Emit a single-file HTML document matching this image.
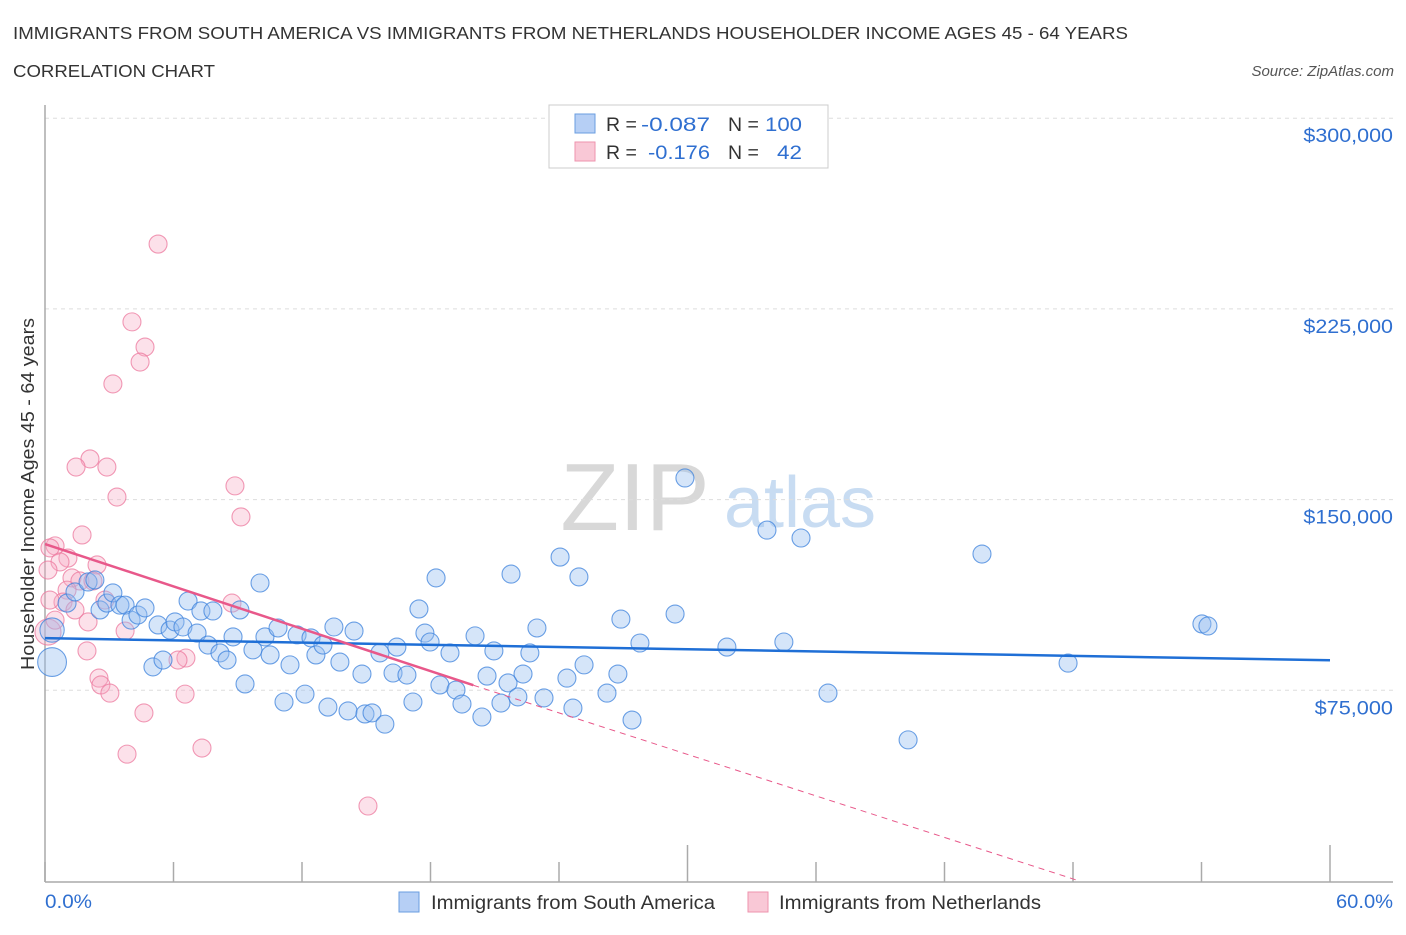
<!DOCTYPE html>
<html><head><meta charset="utf-8">
<style>
body{margin:0;background:#fff;font-family:"Liberation Sans",sans-serif;}
svg text{font-family:"Liberation Sans",sans-serif;}
</style></head>
<body>
<svg id="chart" width="1406" height="930" viewBox="0 0 1406 930" xmlns="http://www.w3.org/2000/svg">
<text x="13" y="39" font-size="17.5" fill="#333" textLength="1115" lengthAdjust="spacingAndGlyphs">IMMIGRANTS FROM SOUTH AMERICA VS IMMIGRANTS FROM NETHERLANDS HOUSEHOLDER INCOME AGES 45 - 64 YEARS</text>
<text x="13" y="77" font-size="17.5" fill="#333" textLength="202" lengthAdjust="spacingAndGlyphs">CORRELATION CHART</text>
<text x="1394" y="76" font-size="15" fill="#555" font-style="italic" text-anchor="end">Source: ZipAtlas.com</text>
<g>
<text x="635" y="530" font-size="96" fill="#d8d8d8" text-anchor="middle" font-family="Liberation Serif, serif">ZIP</text>
<text x="800" y="527" font-size="72" fill="#c8dcf2" text-anchor="middle">atlas</text>
</g>
<g id="grid"></g>
<g id="axes"></g>
<g id="trends"></g>
<g id="points"></g>
<text transform="translate(34,494) rotate(-90)" font-size="18.5" fill="#333" text-anchor="middle" textLength="352" lengthAdjust="spacingAndGlyphs">Householder Income Ages 45 - 64 years</text>
<g>
<rect x="549" y="105" width="279" height="63" fill="#fff" stroke="#ccc"/>
<rect x="575" y="114" width="20" height="19" fill="#b6cff5" stroke="#6a9ee0"/>
<text x="606" y="131" font-size="19.5" fill="#333">R = </text><text x="641" y="131" font-size="19.5" fill="#2f6fd0" textLength="69" lengthAdjust="spacingAndGlyphs">-0.087</text>
<text x="728" y="131" font-size="19.5" fill="#333">N = </text><text x="765" y="131" font-size="19.5" fill="#2f6fd0" textLength="37" lengthAdjust="spacingAndGlyphs">100</text>
<rect x="575" y="142" width="20" height="19" fill="#f9c8d6" stroke="#ee93ae"/>
<text x="606" y="159" font-size="19.5" fill="#333">R = </text><text x="648" y="159" font-size="19.5" fill="#2f6fd0" textLength="62" lengthAdjust="spacingAndGlyphs">-0.176</text>
<text x="728" y="159" font-size="19.5" fill="#333">N = </text><text x="777" y="159" font-size="19.5" fill="#2f6fd0" textLength="25" lengthAdjust="spacingAndGlyphs">42</text>
</g>
<g>
<rect x="399" y="892" width="20" height="20" fill="#b6cff5" stroke="#6a9ee0"/>
<text x="431" y="909" font-size="19" fill="#333" textLength="284" lengthAdjust="spacingAndGlyphs">Immigrants from South America</text>
</g>
<g>
<rect x="748" y="892" width="20" height="20" fill="#f9c8d6" stroke="#ee93ae"/>
<text x="779" y="909" font-size="19" fill="#333" textLength="262" lengthAdjust="spacingAndGlyphs">Immigrants from Netherlands</text>
</g>
</svg>
<script>
const blueX=[0.33,0.33,1.03,1.40,2.01,2.33,2.57,2.89,3.17,3.50,3.74,4.02,4.34,4.67,5.04,5.28,5.51,5.84,6.07,6.44,6.68,7.10,7.28,7.61,7.84,8.17,8.50,8.78,9.10,9.34,9.71,10.04,10.27,10.51,10.88,11.16,11.44,11.77,12.14,12.42,12.65,12.98,13.21,13.49,13.77,14.15,14.43,14.80,14.94,15.27,15.64,15.87,16.25,16.43,16.90,17.18,17.46,17.74,17.98,18.26,18.44,18.91,19.19,19.47,20.08,20.40,20.64,20.96,21.29,21.62,21.76,22.08,22.32,22.64,22.97,23.30,24.05,24.37,24.65,24.93,25.17,26.24,26.75,26.89,27.41,27.78,29.42,29.88,31.84,33.71,34.50,35.30,36.56,40.30,43.75,47.77,54.02,54.30];
const blueY=[86.1,98.7,109.3,113.7,117.6,118.4,106.6,109.3,113.3,108.5,108.5,102.6,104.6,107.4,84.2,100.7,86.9,98.7,101.9,99.9,110.1,97.5,106.2,92.8,106.2,89.7,86.9,96.0,106.6,77.5,90.9,117.2,96.0,88.9,99.5,70.4,85.0,96.8,73.5,95.6,88.9,92.8,68.4,99.9,86.1,66.9,98.3,81.4,65.7,66.1,89.7,61.7,81.8,92.0,81.0,70.4,107.0,97.5,94.0,119.2,77.1,89.7,75.1,69.6,96.4,64.5,80.6,90.5,70.0,77.9,120.7,72.4,81.4,89.7,99.5,72.0,127.4,79.8,68.0,119.6,85.0,73.9,81.4,103.0,63.3,93.6,105.0,158.5,92.0,138.0,94.0,134.9,73.9,55.5,128.6,85.7,101.1,100.3];
const blueSize=[1.6,1.35];
const pinkX=[5.28,4.06,4.67,4.44,3.17,2.10,2.89,1.45,3.36,8.87,9.15,1.73,0.47,0.23,1.07,2.43,0.70,1.26,1.63,2.24,0.14,1.03,0.84,2.80,8.73,2.01,3.74,6.58,6.21,1.96,2.52,2.61,3.03,6.54,4.62,7.33,3.83,15.08,0.14,0.47,1.40,0.23];
const pinkY=[250.5,219.9,210.0,204.1,195.5,166.0,162.8,162.8,151.0,155.4,143.2,136.1,131.8,131.0,127.0,124.3,125.5,119.2,118.0,118.0,122.3,114.4,109.7,110.5,109.3,101.9,98.3,87.7,86.9,90.5,79.8,77.1,73.9,73.5,66.1,52.3,49.9,29.5,97.9,102.6,106.6,110.5];
const yTicks=[75,150,225,300];
const yTickLabels=["$75,000","$150,000","$225,000","$300,000"];
const xTicks=[0,6,12,18,24,30,36,42,48,54,60];
const blueTrend=[[0,95.5],[60,86.8]];
const pinkTrendSolid=[[0,132.5],[20,77.0]];
const pinkTrendDash=[[20,77.0],[48.3,0]];

const NS="http://www.w3.org/2000/svg";
const X=v=>45+v/60*1285;
const Y=v=>881-v*190.7/75;
function mk(tag,attrs,parent){const e=document.createElementNS(NS,tag);for(const k in attrs)e.setAttribute(k,attrs[k]);parent.appendChild(e);return e;}
const grid=document.getElementById('grid'),axes=document.getElementById('axes'),trends=document.getElementById('trends'),pts=document.getElementById('points');
yTicks.forEach((t,i)=>{
 const l=mk('line',{x1:45,x2:1393,y1:Y(t),y2:Y(t),stroke:'#ddd','stroke-dasharray':'4,4'},grid);
 
 
 const tx=mk('text',{x:1393,y:Y(t)+24,'font-size':19.5,fill:'#2f6fd0','text-anchor':'end',textLength:yTickLabels[i].length*11.2,lengthAdjust:'spacingAndGlyphs'},grid);
 tx.textContent=yTickLabels[i];
 
 
});
const ya=mk('line',{x1:45,x2:45,y1:105,y2:882,stroke:'#aaa','stroke-width':1.5},axes);


const xa=mk('line',{x1:45,x2:1393,y1:882,y2:882,stroke:'#aaa','stroke-width':1.5},axes);


xTicks.forEach((t,i)=>{
 const tall=(i===5||i===10);
 const tk=mk('line',{x1:X(t),x2:X(t),y1:tall?845:862,y2:882,stroke:'#aaa','stroke-width':1.5},axes);
 
 
});
const x0=mk('text',{x:45,y:908,'font-size':19.5,fill:'#2f6fd0',textLength:47,lengthAdjust:'spacingAndGlyphs'},axes);x0.textContent='0.0%';


const x1=mk('text',{x:1393,y:908,'font-size':19.5,fill:'#2f6fd0','text-anchor':'end',textLength:57,lengthAdjust:'spacingAndGlyphs'},axes);x1.textContent='60.0%';



function dot(x,y,r,fill,stroke,name){
 const c=mk('circle',{cx:X(x),cy:Y(y),r:r,fill:fill,stroke:stroke,'stroke-width':1.1},pts);
 
 
}
pinkX.forEach((x,i)=>dot(x,pinkY[i],i===38?13:9,'rgba(247,170,195,0.35)','rgba(236,120,158,0.75)','netherlands-point'));
blueX.forEach((x,i)=>dot(x,blueY[i],9*(blueSize[i]||1),'rgba(150,190,240,0.4)','rgba(60,130,220,0.75)','south-america-point'));

const bl=mk('line',{x1:X(blueTrend[0][0]),y1:Y(blueTrend[0][1]),x2:X(blueTrend[1][0]),y2:Y(blueTrend[1][1]),stroke:'#1f6fd6','stroke-width':2.5},trends);


const pl=mk('line',{x1:X(pinkTrendSolid[0][0]),y1:Y(pinkTrendSolid[0][1]),x2:X(pinkTrendSolid[1][0]),y2:Y(pinkTrendSolid[1][1]),stroke:'#e8588a','stroke-width':2.5},trends);


const pd=mk('line',{x1:X(pinkTrendDash[0][0]),y1:Y(pinkTrendDash[0][1]),x2:X(pinkTrendDash[1][0]),y2:Y(pinkTrendDash[1][1]),stroke:'#e8588a','stroke-width':1,'stroke-dasharray':'6,5'},trends);


document.getElementById('chart').appendChild(trends);
</script>
</body></html>
